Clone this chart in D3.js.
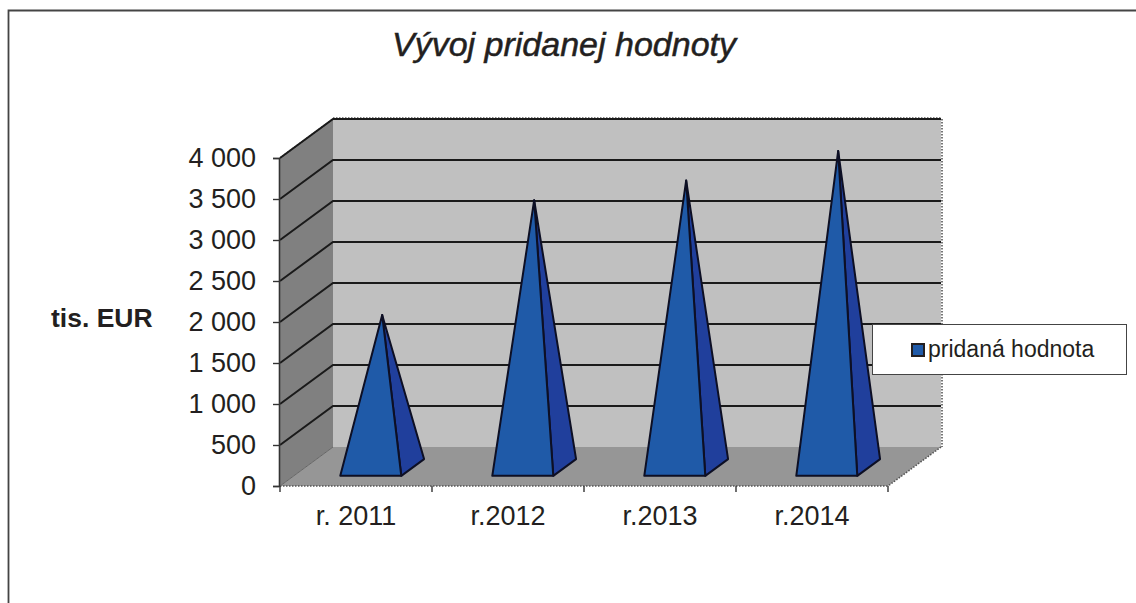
<!DOCTYPE html>
<html>
<head>
<meta charset="utf-8">
<script src="https://cdn.jsdelivr.net/npm/d3@7"></script>
<style>
body { margin: 0; background: #fff; }
text { font-family: "Liberation Sans", Arial, sans-serif; fill: #231f20; }
</style>
</head>
<body>
<div id="canvas"></div>
<script>
var w = 1136;
var h = 603;

var categories = ["r. 2011", "r.2012", "r.2013", "r.2014"];
var values = [1860, 3260, 3500, 3860];
var seriesName = "pridaná hodnota";
var tickValues = [0, 500, 1000, 1500, 2000, 2500, 3000, 3500, 4000];
var tickLabels = ["0", "500", "1 000", "1 500", "2 000", "2 500", "3 000", "3 500", "4 000"];

var svg = d3.select("#canvas").append("svg")
	.attr("width", w)
	.attr("height", h)
	.style("display", "block");

var xScale = d3.scaleBand().domain(categories).range([280, 888]);
var yScale = d3.scaleLinear().domain([0, 4000]).range([486, 158]);

// fake 3d: depth 0 is the front of the floor, depth 1 the back wall
var depthX = 53;
var depthY = -39;
function px(x, depth) { return x + depth * depthX; }
function py(y, depth) { return y + depth * depthY; }
function pts(a) { return a.map(function(p) { return p.join(","); }).join(" "); }

var x0 = xScale.range()[0];
var x1 = xScale.range()[1];
var yBase = yScale(0);
var yTop = yScale(4000);

//outer frame
svg.append("path")
	.attr("d", "M8.5," + h + "V10.5H" + w)
	.attr("fill", "none")
	.attr("stroke", "#444")
	.attr("stroke-width", 1.8);

//walls and floor
svg.append("polygon")
	.attr("points", pts([[px(x0, 1), py(yBase, 1)], [px(x0, 1), py(yTop, 1)], [px(x1, 1), py(yTop, 1)], [px(x1, 1), py(yBase, 1)]]))
	.attr("fill", "#c0c0c0");
svg.append("polygon")
	.attr("points", pts([[x0, yBase], [x0, yTop], [px(x0, 1), py(yTop, 1)], [px(x0, 1), py(yBase, 1)]]))
	.attr("fill", "#808080");
svg.append("polygon")
	.attr("points", pts([[x0, yBase], [x1, yBase], [px(x1, 1), py(yBase, 1)], [px(x0, 1), py(yBase, 1)]]))
	.attr("fill", "#969696");

//dotted edges of the box
var dotted = [
	[[px(x0, 1), py(yTop, 1) - 1], [px(x1, 1), py(yTop, 1) - 1]],
	[[px(x1, 1) + 1, py(yTop, 1)], [px(x1, 1) + 1, py(yBase, 1)]],
	[[px(x1, 1), py(yBase, 1)], [x1, yBase]],
	[[x0, yTop], [px(x0, 1), py(yTop, 1)]],
	[[x0, yBase], [x1, yBase]]
];
svg.selectAll(".edge")
	.data(dotted)
	.join("line")
	.attr("class", "edge")
	.attr("x1", function(d) { return d[0][0]; })
	.attr("y1", function(d) { return d[0][1]; })
	.attr("x2", function(d) { return d[1][0]; })
	.attr("y2", function(d) { return d[1][1]; })
	.attr("stroke", "#555")
	.attr("stroke-width", 1.6)
	.attr("stroke-dasharray", "1.5 1.5");

//gridlines
var gridValues = tickValues.slice(1);
svg.selectAll(".grid")
	.data(gridValues)
	.join("polyline")
	.attr("class", "grid")
	.attr("points", function(d) {
		return pts([[x0, yScale(d)], [px(x0, 1), py(yScale(d), 1)], [px(x1, 1), py(yScale(d), 1)]]);
	})
	.attr("fill", "none")
	.attr("stroke", "#1a1a1a")
	.attr("stroke-width", 2);
svg.append("line")
	.attr("x1", x0).attr("y1", yBase)
	.attr("x2", px(x0, 1)).attr("y2", py(yBase, 1))
	.attr("stroke", "#666")
	.attr("stroke-width", 1);

//axes
var yAxis = d3.axisLeft(yScale)
	.tickValues(tickValues)
	.tickFormat(function(d, i) { return tickLabels[i]; })
	.tickSize(6)
	.tickPadding(17);
var yG = svg.append("g").attr("transform", "translate(" + (x0 - 1) + ",0)").call(yAxis);
yG.selectAll("text").style("font-size", "27px");
yG.select(".domain").attr("stroke", "#333").attr("stroke-width", 1.6);
yG.selectAll(".tick line").attr("stroke", "#333").attr("stroke-width", 1.4);

var xAxis = d3.axisBottom(xScale).tickSize(0).tickPadding(20);
var xG = svg.append("g").attr("transform", "translate(0," + yBase + ")").call(xAxis);
xG.select(".domain").remove();
xG.selectAll("text").style("font-size", "27px");
var bandEdges = categories.map(function(d) { return xScale(d); }).concat([x1]);
svg.selectAll(".xtick")
	.data(bandEdges)
	.join("line")
	.attr("class", "xtick")
	.attr("x1", function(d) { return d; })
	.attr("x2", function(d) { return d; })
	.attr("y1", yBase)
	.attr("y2", yBase + 6)
	.attr("stroke", "#333")
	.attr("stroke-width", 1.4);

//pyramids
var halfW = 30.5;
var front = 0.26;
var back = 0.69;
var mid = 0.475;
var pyramids = svg.selectAll(".pyramid")
	.data(categories)
	.join("g")
	.attr("class", "pyramid");

function cx(cat) { return xScale(cat) + xScale.bandwidth() / 2 + 1; }
function apex(cat, i) { return [px(cx(cat), mid), py(yScale(values[i]), mid)]; }

pyramids.append("polygon")
	.attr("points", function(d, i) {
		return pts([[px(cx(d), front) + halfW, py(yBase, front)], [px(cx(d), back) + halfW, py(yBase, back)], apex(d, i)]);
	})
	.attr("fill", "#203f9c")
	.attr("stroke", "#0d0f24")
	.attr("stroke-width", 2)
	.attr("stroke-linejoin", "round");
pyramids.append("polygon")
	.attr("points", function(d, i) {
		return pts([[px(cx(d), front) - halfW, py(yBase, front)], [px(cx(d), front) + halfW, py(yBase, front)], apex(d, i)]);
	})
	.attr("fill", "#1f5aa8")
	.attr("stroke", "#0d0f24")
	.attr("stroke-width", 2)
	.attr("stroke-linejoin", "round");

//title and axis title
svg.append("text")
	.attr("x", 564)
	.attr("y", 56)
	.attr("text-anchor", "middle")
	.style("font-size", "34px")
	.style("font-style", "italic")
	.style("stroke", "#231f20")
	.style("stroke-width", 0.5)
	.text("Vývoj pridanej hodnoty");
svg.append("text")
	.attr("x", 51)
	.attr("y", 327)
	.style("font-size", "26.5px")
	.style("font-weight", "bold")
	.text("tis. EUR");

//legend
svg.append("rect")
	.attr("x", 872.5).attr("y", 324.5)
	.attr("width", 254).attr("height", 50)
	.attr("fill", "#fff")
	.attr("stroke", "#444")
	.attr("stroke-width", 1);
svg.append("rect")
	.attr("x", 912).attr("y", 344)
	.attr("width", 12).attr("height", 12)
	.attr("fill", "#1f5aa8")
	.attr("stroke", "#231f20")
	.attr("stroke-width", 2);
svg.append("text")
	.attr("x", 928)
	.attr("y", 357)
	.style("font-size", "23px")
	.text(seriesName);
</script>
</body>
</html>
